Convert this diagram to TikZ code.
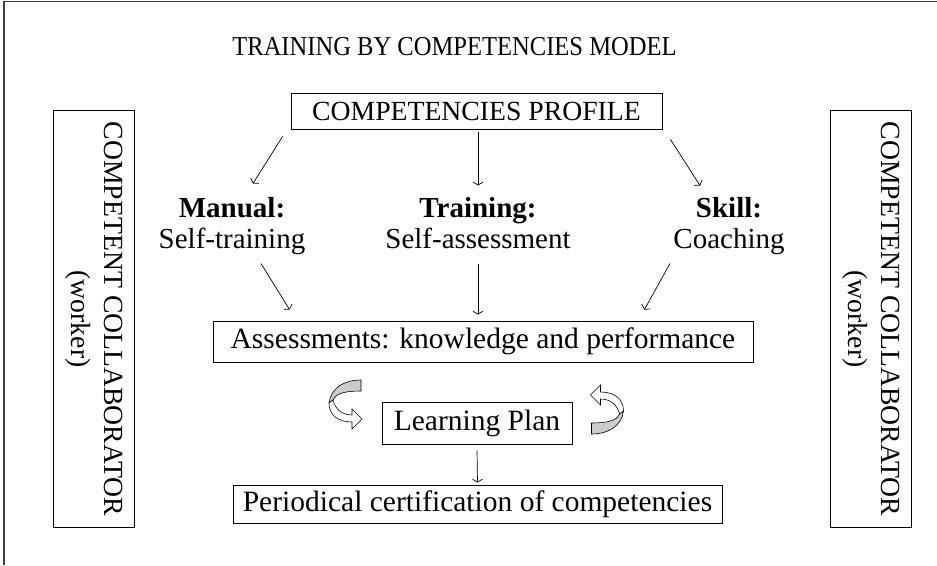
\documentclass[tikz,border=0pt]{standalone}
\usepackage{fontspec}
\setmainfont{Liberation Serif}
\newfontfamily\narrowfont[FakeStretch=0.9]{Liberation Serif}
\usetikzlibrary{arrows.meta}

\begin{document}
\begin{tikzpicture}[x=1pt, y=-1pt,
                    every node/.style = {text=black, inner sep=0pt},
                    every edge/.style = {draw, line width=0.7pt, -{Straight Barb[length=3pt,width=10pt]}},
                    box/.style = {draw, line width=0.8pt, font=\fontsize{29.5}{31}\selectfont},
                    capbox/.style = {draw, line width=0.8pt, font=\fontsize{27.7}{33}\selectfont},
                    side/.style = {capbox, rotate=-90, align=center, minimum width=417, minimum height=81},
                    choice/.style = {align=center, font=\fontsize{29}{31}\selectfont},
                    frame/.style = {draw=black!75, line width=1.5pt},
                    twist/.pic = {
                        \filldraw[fill=gray!40, line width=0.6pt] (15,-25) .. controls (-2,-25) and (-15,-17) .. (-17,-2)
                            -- (-13,-5) .. controls (-10,-12) and (0,-14) .. (15,-14) -- cycle;
                        \filldraw[fill=white, line width=0.6pt] (-17,-2) .. controls (-17,10) and (-8,17) .. (6,17)
                            -- (6,24) -- (16,14) -- (6,4) -- (6,10) .. controls (-4,10) and (-11,4) .. (-13,-5) -- cycle;
                    }]
                \useasboundingbox (0,0) rectangle (937,565);
                \draw[frame] (4,565) -- (4,1.5) -- (937,1.5);
                \node (title) at (454.5,47) [font=\narrowfont\fontsize{27.3}{30}\selectfont] {TRAINING BY COMPETENCIES MODEL};
                \node (profile) at (476.5,111) [capbox, minimum width=371, minimum height=36] {COMPETENCIES PROFILE};
                \node (manual) at (232,227) [choice] {\strut\textbf{Manual:}\\\strut Self-training};
                \node (training) at (478,227) [choice] {\strut\textbf{Training:}\\\strut Self-assessment};
                \node (skill) at (729,227) [choice] {\strut\textbf{Skill:}\\\strut Coaching};
                \node (assess) at (483,341.5) [box, minimum width=540, minimum height=41] {Assessments: knowledge and performance};
                \node (plan) at (477,423) [box, minimum width=190, minimum height=42] {Learning Plan};
                \node (cert) at (477.5,504) [box, minimum width=489, minimum height=38] {Periodical certification of competencies};
                \node (workerl) at (94,319) [side] {COMPETENT COLLABORATOR\\(worker)};
                \node (workerr) at (871,319) [side] {COMPETENT COLLABORATOR\\(worker)};
                \pic at (346,405) {twist};
                \pic[rotate=180] at (606.5,409) {twist};
                \draw ([shift={(-8,7)}]profile.south west) edge ([shift={(21,-43.5)}]manual.center);
                \draw ([shift={(1.5,3)}]profile.south) edge ([shift={(0,-41.5)}]training.center);
                \draw ([shift={(8,10)}]profile.south east) edge ([shift={(-29,-41.5)}]skill.center);
                \draw ([shift={(29,36.5)}]manual.center) edge ([shift={(77,-11)}]assess.north west);
                \draw ([shift={(0,36.5)}]training.center) edge ([shift={(-5,-6)}]assess.north);
                \draw ([shift={(-59,36.5)}]skill.center) edge ([shift={(-109,-11)}]assess.north east);
                \draw ([shift={(0,6)}]plan.south) edge ([shift={(0,-2)}]cert.north);
            \end{tikzpicture}
\end{document}
